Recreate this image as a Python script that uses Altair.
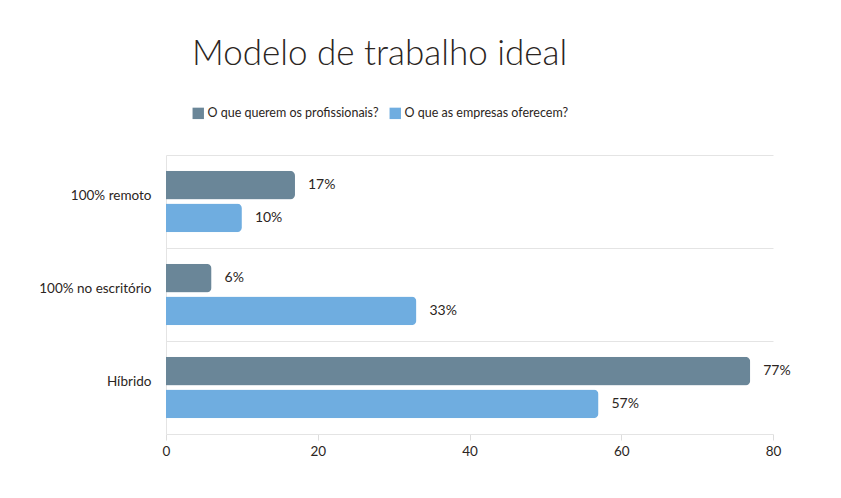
import altair as alt
import pandas as pd

categories = ["100% remoto", "100% no escritório", "Híbrido"]
series = ["O que querem os profissionais?", "O que as empresas oferecem?"]
profissionais = [17, 6, 77]
empresas = [10, 33, 57]
colors = ["#6a8698", "#6fade0"]

rows = []
for c, p, e in zip(categories, profissionais, empresas):
    rows.append({"cat": c, "serie": series[0], "valor": p, "label": f"{p}%"})
    rows.append({"cat": c, "serie": series[1], "valor": e, "label": f"{e}%"})
df = pd.DataFrame(rows)

FONT = "Lato"
TXT = "#2b2522"

y_enc = alt.Y("cat:N", sort=categories, title=None,
              scale=alt.Scale(paddingInner=0, paddingOuter=0),
              axis=alt.Axis(grid=True, bandPosition=0, gridColor="#e4e4e4",
                            ticks=False, domainColor="#e4e4e4", labelPadding=15,
                            labelOffset=-6,
                            labelFontSize=13.5, labelColor=TXT, labelFont=FONT,
                            labelLimit=300))
yoff = alt.YOffset("serie:N", sort=series,
                   scale=alt.Scale(paddingInner=0.125, paddingOuter=0.48))
x_enc = alt.X("valor:Q", title=None,
              scale=alt.Scale(domain=[0, 80]),
              axis=alt.Axis(values=[0, 20, 40, 60, 80], grid=False, tickSize=6,
                            tickColor="#dddddd", domainColor="#e4e4e4",
                            labelFontSize=13.5, labelColor=TXT, labelFont=FONT,
                            labelFlush=False, labelPadding=4))

bars = alt.Chart(df).mark_bar(cornerRadiusEnd=5).encode(
    y=y_enc, yOffset=yoff, x=x_enc,
    color=alt.Color("serie:N", sort=series, title=None,
                    scale=alt.Scale(domain=series, range=colors),
                    legend=alt.Legend(orient="none", legendX=26, legendY=-48,
                                      direction="horizontal", symbolType="square",
                                      symbolSize=130, symbolStrokeWidth=0,
                                      labelFontSize=12.5, labelFont=FONT,
                                      labelColor=TXT, columnPadding=10,
                                      labelLimit=400, labelOffset=3)),
)

text = alt.Chart(df).mark_text(align="left", baseline="middle", dx=13,
                               fontSize=14, font=FONT, color=TXT).encode(
    y=alt.Y("cat:N", sort=categories), yOffset=alt.YOffset("serie:N", sort=series),
    x="valor:Q", text="label:N")

chart = alt.layer(bars, text).properties(
    width=607, height=279,
    autosize=alt.AutoSizeParams(type="none"),
    padding={"left": 158, "top": 147, "right": 60, "bottom": 56},
    title=alt.TitleParams("Modelo de trabalho ideal", anchor="start", frame="group",
                          fontSize=35, font=FONT, fontWeight=300, color=TXT,
                          dx=26, offset=35, orient="top"),
).configure_view(stroke=None)

chart.save("out.html", embed_options={"renderer": "svg", "actions": False})
